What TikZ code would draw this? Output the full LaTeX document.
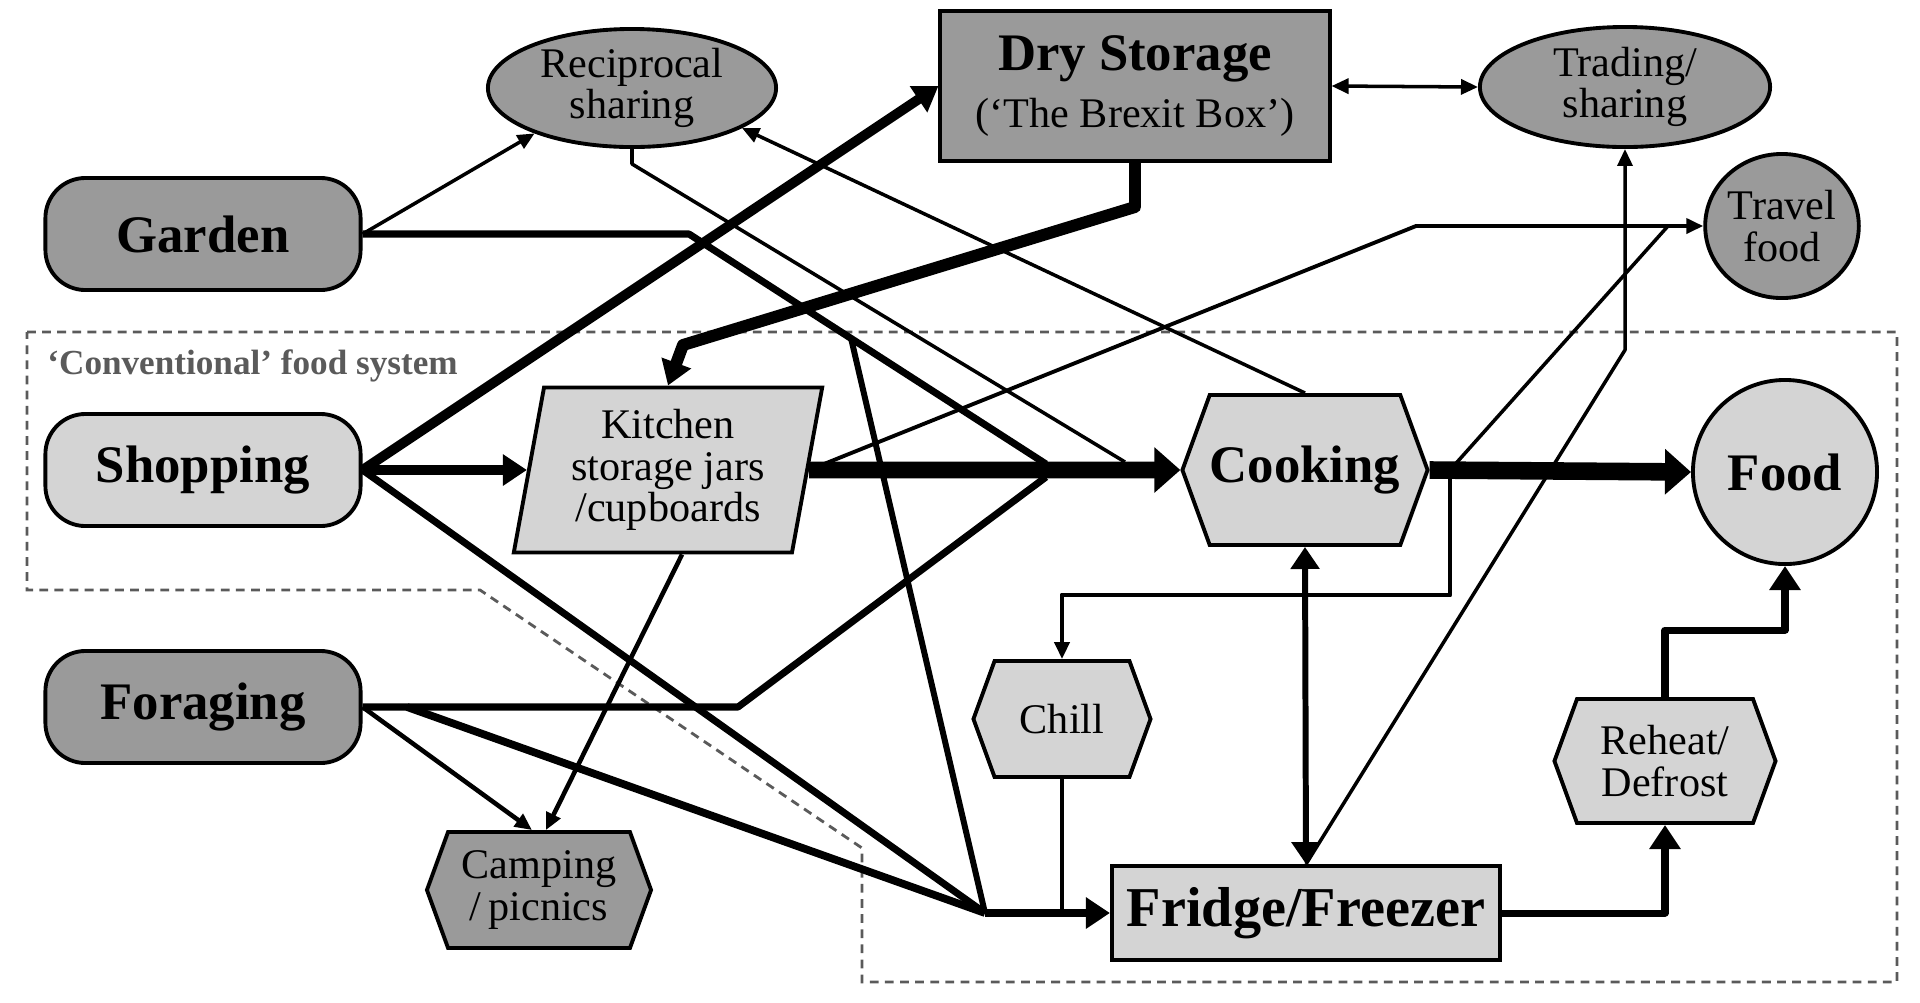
\documentclass[tikz,border=0pt]{standalone}
\usepackage{fontspec}
\setmainfont{Liberation Serif}
\usetikzlibrary{arrows.meta,shapes.geometric,shapes.symbols}
\definecolor{darkfill}{HTML}{9A9A9A}
\definecolor{lightfill}{HTML}{D4D4D4}
\definecolor{zonegray}{HTML}{5A5A5A}
\newcommand\headfont{\fontsize{15pt}{16pt}\selectfont\bfseries}
\newcommand\labelfont{\fontsize{12pt}{11.8pt}\selectfont\mdseries}
\newcommand\zonefont{\fontsize{10pt}{12pt}\selectfont\bfseries}

\begin{document}
\begin{tikzpicture}[
    x=0.01cm, y=-0.01cm,
    outline/.style={
      draw, line width=1.1pt, inner sep=0pt, align=center
    },
    darkbox/.style={
      outline, fill=darkfill
    },
    lightbox/.style={
      outline, fill=lightfill
    },
    pill/.style={
      rectangle, rounded corners=0.4cm,
      minimum width=3.15cm, minimum height=1.12cm, font=\headfont
    },
    oval/.style={
      ellipse, font=\labelfont
    },
    hexbox/.style={
      signal, signal to=west and east, signal pointer angle=140,
      font=\labelfont
    },
    flow/.style={
      line width=#1, line join=round
    },
    tipS/.style={
      -{Triangle[length=0.17cm,width=0.15cm]}
    },
    tipM/.style={
      -{Triangle[length=0.24cm,width=0.3cm]}
    },
    tipL/.style={
      -{Triangle[length=0.26cm,width=0.44cm]}
    },
    twowayS/.style={
      {Triangle[length=0.17cm,width=0.15cm]}-{Triangle[length=0.17cm,width=0.15cm]}
    },
    twowayM/.style={
      {Triangle[length=0.22cm,width=0.28cm]}-{Triangle[length=0.22cm,width=0.28cm]}
    },
    zone/.style={
      draw=zonegray, line width=0.8pt, dash pattern=on 2.5pt off 1.8pt
    }
  ]
    \useasboundingbox (0,0) rectangle (1920,1002);

    % conventional food system
    \draw[zone] (27,332) -- (1897,332) -- (1897,982) -- (862,982)
      -- (862,848) -- (480,590) -- (27,590) -- cycle;
    \node[text=zonegray, font=\zonefont, anchor=west] (ZoneLabel) at (35,366) {‘Conventional’ food system};

    % sources
    \node[darkbox,pill]  (Garden) at (203,234) {Garden};
    \node[lightbox,pill] (Shop)   at (203,470) {Shopping};
    \node[darkbox,pill]  (Forage) at (203,707) {Foraging};

    % storage
    \node[darkbox, minimum width=3.89cm, minimum height=1.5cm, font=\headfont] (DryBox) at (1135,86)
      {Dry Storage\\[0pt]{\labelfont (‘The Brexit Box’)}};
    \node[lightbox, trapezium, trapezium left angle=79, trapezium right angle=101,
      trapezium stretches=true, minimum width=3.09cm, minimum height=1.65cm,
      font=\labelfont] (Kitchen) at (668,470) {Kitchen\\storage jars\\/cupboards};
    \node[lightbox, minimum width=3.88cm, minimum height=0.94cm,
      font=\fontsize{16pt}{17pt}\selectfont\bfseries] (Fridge) at (1306,913) {Fridge/Freezer};

    % sharing and eating
    \node[darkbox,oval, minimum width=2.88cm, minimum height=1.18cm] (Recip)  at (632,88)   {Reciprocal\\sharing};
    \node[darkbox,oval, minimum width=2.9cm, minimum height=1.2cm]   (Trade)  at (1625,87)  {Trading/\\sharing};
    \node[darkbox,oval, minimum width=1.45cm, minimum height=1.44cm] (Travel) at (1782,226) {Travel\\food};
    \node[lightbox,oval, minimum size=1.84cm, font=\headfont]         (Food)   at (1785,472) {Food};

    % preparation
    \node[lightbox,hexbox, minimum width=2.45cm, minimum height=1.5cm, font=\headfont] (Cook) at (1305,470) {Cooking};
    \node[lightbox,hexbox, minimum width=1.77cm, minimum height=1.16cm] (Chill)  at (1062,719) {Chill};
    \node[lightbox,hexbox, minimum width=2.21cm, minimum height=1.24cm] (Reheat) at (1665,761) {Reheat/\\Defrost};
    \node[darkbox,hexbox, minimum width=2.24cm, minimum height=1.16cm]  (Camp)   at (539,890)  {Camping\\/\,picnics};

    % junctions
    \coordinate (GardenBend)  at (689,234);
    \coordinate (GardenSplit) at (851,338);
    \coordinate (JoinTop)     at (1046,464);
    \coordinate (JoinLow)     at (1046,477);
    \coordinate (ForageSplit) at (407,707);
    \coordinate (ForageBend)  at (738,707);
    \coordinate (Hub)         at (985,913);
    \coordinate (RecipJoin)   at (1125,462);
    \coordinate (DryBend)     at (683,345);
    \coordinate (TravelBend)  at (1416,226);
    \coordinate (TravelJoin)  at (1668,226);
    \coordinate (CookOut)     at (1450,470);
    \coordinate (TradeBend)   at (1625,350);

    % shopping
    \draw[flow=2.8pt,tipM] (Shop.east) -- (Kitchen.west);
    \draw[flow=2.8pt,tipM] (Shop.east) -- (DryBox.west);
    \draw[flow=2pt]        (Shop.east) -- (Hub);
    \draw[flow=3.4pt,tipM] (DryBox.south) -- ++(0,44) -- (DryBend) -- (Kitchen.north);

    % garden and foraging
    \draw[flow=2pt]       (Garden.east) -- (GardenBend) -- (JoinTop);
    \draw[flow=1.7pt]     (GardenSplit) -- (Hub);
    \draw[flow=1pt,tipS]  (Garden.east) -- (Recip.205);
    \draw[flow=2pt]       (Forage.east) -- (ForageBend) -- (JoinLow);
    \draw[flow=2.2pt]     (ForageSplit) -- (Hub);
    \draw[flow=1.3pt,tipS] (Forage.east) -- ([xshift=-0.07cm]Camp.north);
    \draw[flow=1.3pt,tipS] ([xshift=0.14cm]Kitchen.south) -- ([xshift=0.07cm]Camp.north);

    % sharing
    \draw[flow=1pt]          (Recip.south) -- ++(0,15) -- (RecipJoin);
    \draw[flow=1pt,tipS]     (Cook.north) -- (Recip.340);
    \draw[flow=1pt,twowayS]  (DryBox.east) -- (Trade.west);
    \draw[flow=1pt,tipS]     (Fridge.north) -- (TradeBend) -- (Trade.south);

    % travel food
    \draw[flow=1.1pt,tipS] (Kitchen.east) -- (TravelBend) -- (Travel.west);
    \draw[flow=1pt]        (CookOut) -- (TravelJoin);

    % main line
    \draw[flow=4.8pt,tipL] (Kitchen.east) -- (Cook.west);
    \draw[flow=5pt,tipL]   (Cook.east) -- (Food.west);

    % cold chain
    \draw[flow=1.4pt,tipS]    (CookOut) -- ++(0,125) -| (Chill.north);
    \draw[flow=1.4pt]         (Chill.south) -- (Chill.south |- Hub);
    \draw[flow=2.3pt,tipM]    (Hub) -- (Fridge.west);
    \draw[flow=1.7pt,twowayM] (Cook.south) -- (Fridge.north);
    \draw[flow=2pt,tipM]      (Fridge.east) -| (Reheat.south);
    \draw[flow=2pt,tipM]      (Reheat.north) -- ++(0,-67) -| (Food.south);
  \end{tikzpicture}
\end{document}
